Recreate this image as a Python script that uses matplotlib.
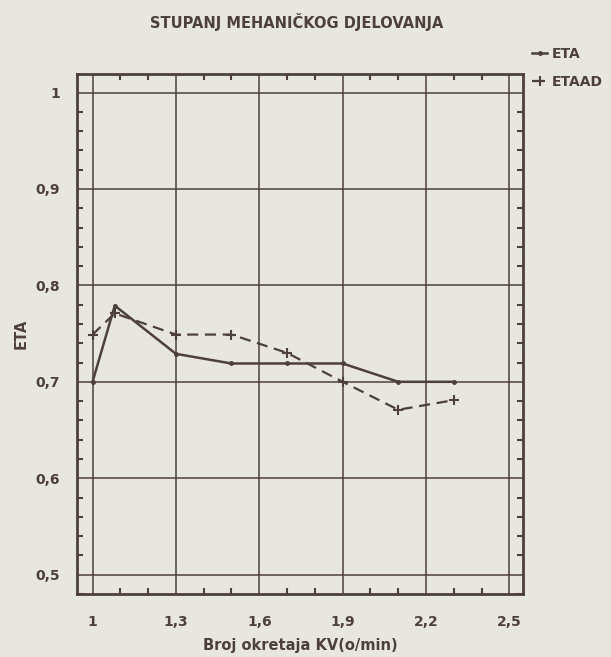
import numpy as np
import matplotlib
matplotlib.use("Agg")
import matplotlib.pyplot as plt
from matplotlib.ticker import MultipleLocator, FixedLocator

# values
rpm = [1.0, 1.08, 1.3, 1.5, 1.7, 1.9, 2.1, 2.3]
eta = [0.700, 0.779, 0.729, 0.719, 0.719, 0.719, 0.700, 0.700]
etaad = [0.749, 0.771, 0.749, 0.749, 0.730, 0.700, 0.671, 0.681]

x_ticks = [1.0, 1.3, 1.6, 1.9, 2.2, 2.5]
x_labels = ["1", "1,3", "1,6", "1,9", "2,2", "2,5"]
y_ticks = [0.5, 0.6, 0.7, 0.8, 0.9, 1.0]
y_labels = ["0,5", "0,6", "0,7", "0,8", "0,9", "1"]

ink = "#4d3f3d"
paper = "#e8e6e1"

plt.rcParams["font.family"] = "DejaVu Sans"
plt.rcParams["font.weight"] = "bold"

fig = plt.figure(figsize=(6.11, 6.57), dpi=100)
fig.patch.set_facecolor(paper)
ax = fig.add_axes([0.126, 0.096, 0.730, 0.791])
ax.set_facecolor(paper)

ax.set_xlim(0.944, 2.549)
ax.set_ylim(0.480, 1.019)

# grid
for xv in x_ticks:
    ax.axvline(xv, color=ink, lw=1.1, zorder=1)
for yv in y_ticks:
    ax.axhline(yv, color=ink, lw=1.1, zorder=1)

ax.plot(rpm, eta, color=ink, lw=1.8, marker="o", ms=2.5, label="ETA", zorder=3)
ax.plot(rpm, etaad, color=ink, lw=1.6, ls=(0, (5, 3)), marker="+", ms=7, mew=1.5,
        label="ETAAD", zorder=3)

for s in ax.spines.values():
    s.set_color(ink)
    s.set_linewidth(2)

ax.xaxis.set_major_locator(FixedLocator(x_ticks))
ax.set_xticklabels(x_labels)
ax.xaxis.set_minor_locator(MultipleLocator(0.1))
ax.yaxis.set_major_locator(FixedLocator(y_ticks))
ax.set_yticklabels(y_labels)
ax.yaxis.set_minor_locator(MultipleLocator(0.02))

ax.tick_params(axis="both", which="both", direction="in", color=ink,
               top=True, right=True, width=1.5)
ax.tick_params(axis="both", which="major", length=0, labelsize=10,
               labelcolor=ink)
ax.tick_params(axis="x", which="major", pad=15)
ax.tick_params(axis="y", which="major", pad=12)
ax.tick_params(axis="both", which="minor", length=4)

ax.set_xlabel("Broj okretaja KV(o/min)", fontsize=10.5, color=ink,
              fontweight="bold", labelpad=7)
ax.set_ylabel("ETA", fontsize=10.5, color=ink, fontweight="bold", labelpad=5)
fig.text(0.485, 0.966, "STUPANJ MEHANIČKOG DJELOVANJA", ha="center", va="center",
         fontsize=10.5, color=ink, fontweight="bold")

leg = ax.legend(loc="upper left", bbox_to_anchor=(1.02, 1.052), frameon=False,
                fontsize=10, handlelength=1.1, handletextpad=0.35, labelspacing=1.0,
                borderaxespad=0, borderpad=0)
for t in leg.get_texts():
    t.set_color(ink)

fig.savefig("out.png", dpi=100, facecolor=paper)
